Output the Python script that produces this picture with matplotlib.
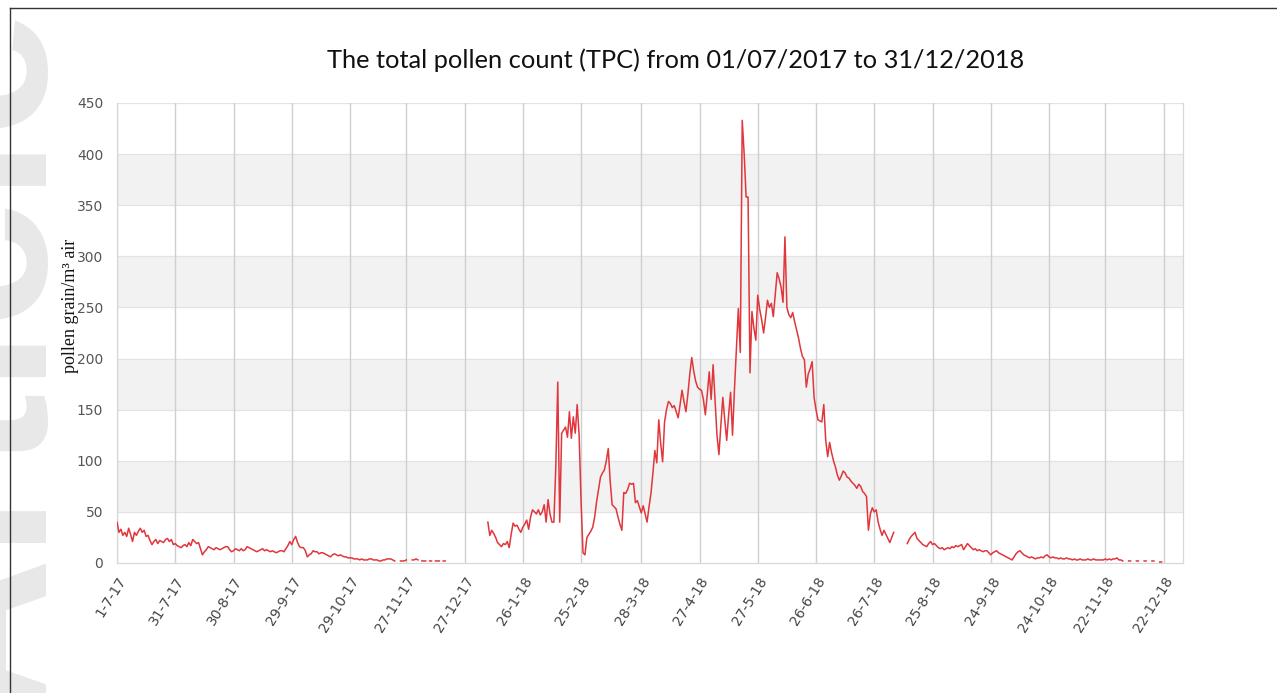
import numpy as np
import pandas as pd
import matplotlib
matplotlib.use('Agg')
import matplotlib.pyplot as plt
from matplotlib.lines import Line2D

nan = np.nan

# Conteo diario de polen total (granos/m3), tres tramos con huecos entre ellos
tramo1_inicio = '2017-07-01'
tramo1_tpc = [
    # julio 2017
    40, 30, 33, 27, 30, 26, 34, 28, 21, 30, 27, 31, 34, 30, 32, 26, 27, 22, 18, 21,
    23, 19, 22, 21, 20, 23, 24, 21, 23, 18, 19,
    # agosto
    17, 16, 15, 17, 18, 16, 20, 17, 23, 21, 19, 20, 14, 8, 11, 13, 16, 15, 14, 13,
    15, 14, 13, 14, 15, 16, 16, 13, 11, 12, 14,
    # septiembre
    13, 12, 14, 12, 13, 16, 15, 14, 13, 12, 11, 12, 13, 14, 12, 13, 12, 11, 12, 11,
    10, 11, 12, 12, 11, 14, 17, 21, 18, 23,
    # octubre
    26, 20, 16, 15, 15, 12, 6, 8, 9, 12, 11, 11, 9, 10, 10, 9, 8, 7, 6, 8,
    9, 8, 7, 8, 7, 6, 6, 5, 5, 5, 4,
    # noviembre
    4, 4, 3, 4, 3, 3, 3, 4, 4, 3, 3, 3, 2, 2, 3, 3, 4, 4, 4, 3,
    2, nan, nan, 2, 2, 2, 3, nan, nan, 3,
    # diciembre (hasta el 17)
    3, 4, 3, nan, 2, 2, 2, nan, 2, 2, nan, 2, 2, 2, nan, 2, 2,
]

tramo2_inicio = '2018-01-08'
tramo2_tpc = [
    40, 27, 32, 29, 25, 20, 18, 16, 19, 18, 21, 15, 28, 39, 36, 37, 33, 30, 35, 38,
    42, 33, 45, 52, 50, 48, 52, 47, 50, 57, 40, 62, 48, 40, 40, 95, 177, 40, 127, 130,
    133, 123, 148, 122, 143, 127, 155, 125, 60, 10, 8, 25, 28, 31, 35, 45, 60, 72, 84, 88,
    91, 100, 112, 80, 57, 55, 53, 45, 38, 32, 69, 68, 72, 78, 77, 78, 59, 61, 55, 49,
    56, 48, 40, 55, 68, 88, 110, 98, 140, 117, 99, 138, 150, 158, 156, 152, 154, 148, 142, 155,
    169, 158, 148, 165, 185, 201, 188, 178, 172, 170, 169, 160, 145, 165, 187, 160, 194, 160, 125, 106,
    135, 162, 140, 120, 145, 167, 125, 170, 210, 249, 206, 433, 400, 358, 358, 186, 246, 230, 218, 262,
    248, 238, 225, 240, 257, 250, 254, 241, 262, 284, 278, 270, 255, 319, 250, 243, 240, 245, 236, 228,
    220, 210, 202, 199, 172, 185, 190, 197, 162, 150, 140, 139, 138, 155, 120, 104, 118, 108, 100, 94,
    86, 81, 85, 90, 88, 84, 83, 80, 78, 76, 73, 77, 75, 70, 68, 65, 32, 48, 54, 50,
    52, 40, 33, 27, 32, 28, 24, 20, 25, 30,
]

tramo3_inicio = '2018-08-12'
tramo3_tpc = [
    19, 23, 26, 28, 30, 24, 22, 20, 18, 17, 16, 19, 21, 18, 19, 17, 15, 14, 15, 13,
    14, 15, 14, 16, 15, 17, 16, 17, 18, 13, 16, 19, 17, 15, 13, 14, 12, 13, 12, 11,
    12, 12, 10, 8, 10, 11, 12, 10, 9, 8, 7, 6, 5, 4, 3, 6, 9, 11, 12, 10,
    8, 7, 6, 5, 6, 5, 4, 5, 5, 6, 5, 7, 8, 6, 5, 6, 5, 5, 4, 5,
    4, 4, 5, 4, 4, 3, 4, 3, 3, 4, 3, 3, 3, 4, 3, 3, 4, 3, 3, 3,
    3, 3, 4, 3, 4, 3, 4, 4, 5, 3, 3, 2, nan, nan, 2, 2, nan, nan, 2, 2,
    nan, nan, 2, 2, nan, nan, 2, 2, nan, nan, 1, 1,
]

# Etiquetas del eje X tal como aparecen (d-m-aa)
etiquetas_x = ['1-7-17', '31-7-17', '30-8-17', '29-9-17', '29-10-17', '27-11-17',
               '27-12-17', '26-1-18', '25-2-18', '28-3-18', '27-4-18', '27-5-18',
               '26-6-18', '26-7-18', '25-8-18', '24-9-18', '24-10-18', '22-11-18',
               '22-12-18']
yticks = [0, 50, 100, 150, 200, 250, 300, 350, 400, 450]
bandas_grises = [(50, 100), (150, 200), (250, 300), (350, 400)]


def serie(inicio, valores):
    fechas = pd.date_range(inicio, periods=len(valores), freq='D')
    return pd.Series(valores, index=fechas, dtype=float)


# Unir los tramos, dejando NaN en los días sin dato
s = pd.concat([serie(tramo1_inicio, tramo1_tpc),
               serie(tramo2_inicio, tramo2_tpc),
               serie(tramo3_inicio, tramo3_tpc)])
s = s.reindex(pd.date_range('2017-07-01', '2018-12-31', freq='D'))

fig = plt.figure(figsize=(12.77, 6.93), dpi=100)
ax = fig.add_axes([117 / 1277, 130 / 693, 1066 / 1277, 460 / 693])

# Marca de agua gris en el borde izquierdo (cortada por el borde)
fig.text(0.069, 0.48, 'Article', rotation=90, ha='right', va='center',
         fontsize=165, fontweight='bold', family='Liberation Sans',
         color='#e8e8e8', zorder=0)

# Marco de la página
fig.add_artist(Line2D([10 / 1277, 10 / 1277], [0, 1 - 8 / 693],
                      color='#333333', lw=1.0))
fig.add_artist(Line2D([10 / 1277, 1], [1 - 8 / 693, 1 - 8 / 693],
                      color='#333333', lw=1.0))

for lo, hi in bandas_grises:
    ax.axhspan(lo, hi, color='#f2f2f2', lw=0, zorder=0)
for y in yticks[1:]:
    ax.axhline(y, color='#e3e3e3', lw=0.9, zorder=1)

pos_x = [pd.to_datetime(e, format='%d-%m-%y') for e in etiquetas_x]
for x in pos_x:
    ax.axvline(x, color='#cfcfcf', lw=1.0, zorder=1)

ax.plot(s.index, s.values, color='#e0363c', lw=1.1, zorder=3)

ax.set_xlim(pd.Timestamp('2017-07-01'), pd.Timestamp('2019-01-01'))
ax.set_ylim(0, 450)
ax.set_yticks(yticks)
ax.set_yticklabels([str(v) for v in yticks], fontsize=10, color='#555555')
ax.set_xticks(pos_x)
ax.set_xticklabels(etiquetas_x, fontsize=10, color='#444444', rotation=58,
                   ha='right', va='top', rotation_mode='anchor')
ax.tick_params(axis='both', length=0)
ax.tick_params(axis='y', pad=10)
ax.tick_params(axis='x', pad=8)

for lado in ['top', 'right', 'left', 'bottom']:
    ax.spines[lado].set_color('#d8d8d8')
    ax.spines[lado].set_linewidth(0.9)
ax.spines['top'].set_visible(False)

ax.set_ylabel('pollen grain/m³ air', family='Liberation Serif', fontsize=13,
              color='#111111')
ax.yaxis.set_label_coords(-0.036, 0.56)

fig.text(0.529, 0.913, 'The total pollen count (TPC) from 01/07/2017 to 31/12/2018',
         ha='center', va='center', fontsize=18.3, family='Lato', color='#111111')

fig.savefig('out.png', dpi=100)
